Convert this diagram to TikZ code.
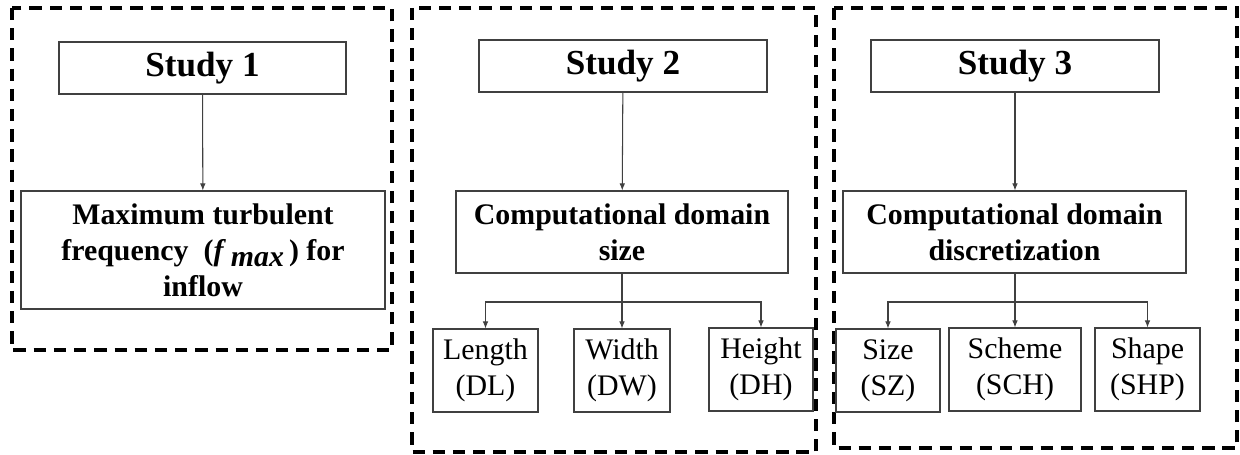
\documentclass[tikz,border=0pt]{standalone}
\usepackage{fontspec}
\setmainfont{Liberation Serif}
\usetikzlibrary{arrows.meta}

\begin{document}
\begin{tikzpicture}[x=0.02cm,y=-0.02cm,
    frame/.style={draw=black,line width=2pt,dash pattern=on 7pt off 4.5pt},
    head/.style={draw=black!75,line width=0.6pt,inner sep=0pt,minimum height=52*0.02cm,
                 font=\fontsize{20}{24}\selectfont\bfseries},
    topic/.style={draw=black!75,line width=0.6pt,inner sep=0pt,align=center,
                 font=\fontsize{17}{20.5}\selectfont\bfseries},
    item/.style={draw=black!75,line width=0.6pt,inner sep=0pt,align=center,minimum height=83*0.02cm,
                 font=\fontsize{17}{20.5}\selectfont},
    arr/.style={draw=black!75,line width=0.6pt,-{Latex[length=4pt,width=3.2pt]}}]
    \useasboundingbox (0,0) rectangle (1240,455);

    % dashed frames of the three studies
    \draw[frame] (12,8) rectangle (392,350);
    \draw[frame] (412,8) rectangle (816,452);
    \draw[frame] (834,8) rectangle (1237,448);

    % study 1
    \node[head,minimum width=287*0.02cm] (s1) at (202.5,68) {Study 1};
    \node[topic,minimum width=364*0.02cm,minimum height=118*0.02cm] (fmax) at (203,250)
        {Maximum turbulent\\frequency\ \ (\textit{f}\,\raisebox{-0.45ex}{\textit{max}}\,) for\\inflow};
    \draw[arr] (s1) -- (fmax);

    % study 2
    \node[head,minimum width=288*0.02cm] (s2) at (623,66) {Study 2};
    \node[topic,minimum width=332*0.02cm,minimum height=82*0.02cm] (dsize) at (622,232)
        {Computational domain\\size};
    \node[item,minimum width=105*0.02cm] (dl) at (485.5,370.5) {Length\\(DL)};
    \node[item,minimum width=96*0.02cm] (dw) at (622,370.5) {Width\\(DW)};
    \node[item,minimum width=104*0.02cm] (dh) at (761,369.5) {Height\\(DH)};
    \coordinate (j2) at (622,302);
    \draw[arr] (s2) -- (dsize);
    \draw[arr] (dsize.south) -- (dw.north);
    \draw[arr] (j2) -| (dl.north);
    \draw[arr] (j2) -| (dh.north);

    % study 3
    \node[head,minimum width=288*0.02cm] (s3) at (1015,66) {Study 3};
    \node[topic,minimum width=343*0.02cm,minimum height=82*0.02cm] (ddisc) at (1014.5,232)
        {Computational domain\\discretization};
    \node[item,minimum width=104*0.02cm] (sz) at (888,370.5) {Size\\(SZ)};
    \node[item,minimum width=132*0.02cm] (sch) at (1015,369.5) {Scheme\\(SCH)};
    \node[item,minimum width=105*0.02cm] (shp) at (1147.5,369.5) {Shape\\(SHP)};
    \coordinate (j3) at (1015,302);
    \draw[arr] (s3.south) -- (ddisc.north -| s3.south);
    \draw[arr] (ddisc.south -| sch.north) -- (sch.north);
    \draw[arr] (j3) -| (sz.north);
    \draw[arr] (j3) -| (shp.north);
\end{tikzpicture}
\end{document}
